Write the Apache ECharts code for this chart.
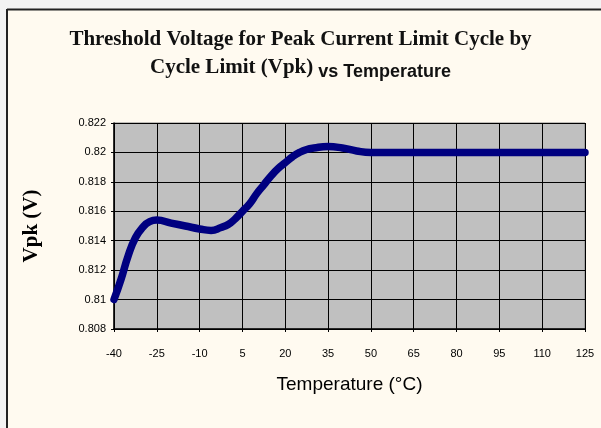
<!DOCTYPE html>
<html><head><meta charset="utf-8">
<script src="https://cdn.jsdelivr.net/npm/echarts@6/dist/echarts.min.js"></script>
<style>html,body{margin:0;padding:0;background:#fffaf0;}#c{width:601px;height:428px;}</style>
</head><body><div id="c"></div>
<script>
const titleLine1 = 'Threshold Voltage for Peak Current Limit Cycle by';
const titleLine2a = 'Cycle Limit (Vpk)';
const titleLine2b = 'vs Temperature';
const xName = 'Temperature (°C)';
const yName = 'Vpk (V)';
const xTicks = [-40,-25,-10,5,20,35,50,65,80,95,110,125];
const yTicks = [0.808,0.810,0.812,0.814,0.816,0.818,0.820,0.822];
const temps = [-40,-37.5,-35,-32.5,-30,-27.5,-25,-20,-15,-10,-6,-2.5,0,2.5,5,7.5,10,12.5,15,17.5,20,22.5,25,27.5,30,35,40,45,50,60,70,80,90,100,110,125];
const vpk = [0.8100,0.8114,0.8130,0.8142,0.8149,0.8153,0.8154,0.8152,0.8150,0.8148,0.8147,0.8149,0.8151,0.8155,0.8160,0.8165,0.8172,0.8178,0.8184,0.8189,0.8193,0.8197,0.8200,0.8202,0.8203,0.8204,0.8203,0.8201,0.8200,0.8200,0.8200,0.8200,0.8200,0.8200,0.8200,0.8200];

const chart = echarts.init(document.getElementById('c'), null, {renderer:'canvas'});
chart.setOption({
  backgroundColor:'#fffaf0',
  animation:false,
  graphic:[
    {type:'rect', shape:{x:0,y:0,width:7,height:428}, style:{fill:'#f3f3f3'}, z:-10},
    {type:'rect', shape:{x:0,y:0,width:601,height:9}, style:{fill:'#f3f3f3'}, z:-10},
    {type:'line', shape:{x1:7,y1:9.5,x2:601,y2:9.5}, style:{stroke:'#222',lineWidth:2}},
    {type:'line', shape:{x1:7,y1:9,x2:7,y2:428}, style:{stroke:'#222',lineWidth:2}}
  ],
  title:[
    {text:titleLine1, left:'center', top:24, textStyle:{fontFamily:'Liberation Serif', fontWeight:'bold', fontSize:21, color:'#111'}},
    {text:'{a|'+titleLine2a+'} {b|'+titleLine2b+'}', left:'center', top:52,
     textStyle:{rich:{
       a:{fontFamily:'Liberation Serif', fontWeight:'bold', fontSize:21, color:'#111', verticalAlign:'top', lineHeight:24},
       b:{fontFamily:'Liberation Sans', fontSize:18, color:'#111', verticalAlign:'bottom', lineHeight:24, padding:[9,0,0,0]}
     }}}
  ],
  grid:{left:114, right:16, top:123, bottom:99, show:true, backgroundColor:'#c0c0c0', borderColor:'#808080', borderWidth:1},
  xAxis:{type:'value', min:-40, max:125, interval:15,
    name:xName, nameLocation:'middle', nameGap:46,
    nameTextStyle:{fontFamily:'Liberation Sans', fontSize:19, color:'#000'},
    axisLine:{show:true, onZero:false, lineStyle:{color:'#000', width:1.5}},
    axisTick:{show:true, length:3, lineStyle:{color:'#000'}},
    axisLabel:{fontFamily:'Liberation Sans', fontSize:11, color:'#000', margin:19},
    splitLine:{show:true, lineStyle:{color:'#000', width:1}}
  },
  yAxis:{type:'value', min:0.808, max:0.822, interval:0.002,
    name:yName, nameLocation:'middle', nameGap:72, nameRotate:90,
    nameTextStyle:{fontFamily:'Liberation Serif', fontWeight:'bold', fontSize:21, color:'#000'},
    axisLine:{show:true, onZero:false, lineStyle:{color:'#000', width:1.5}},
    axisTick:{show:true, length:3, lineStyle:{color:'#000'}},
    axisLabel:{fontFamily:'Liberation Sans', fontSize:11, color:'#000', margin:8,
      formatter:function(v){return String(parseFloat(v.toFixed(3)));}},
    splitLine:{show:true, lineStyle:{color:'#000', width:1}}
  },
  series:[{type:'line', data:temps.map((t,i)=>[t,vpk[i]]), smooth:0.5, showSymbol:false,
    lineStyle:{color:'#000080', width:7.5, cap:'round', join:'round'}}]
});
</script></body></html>
